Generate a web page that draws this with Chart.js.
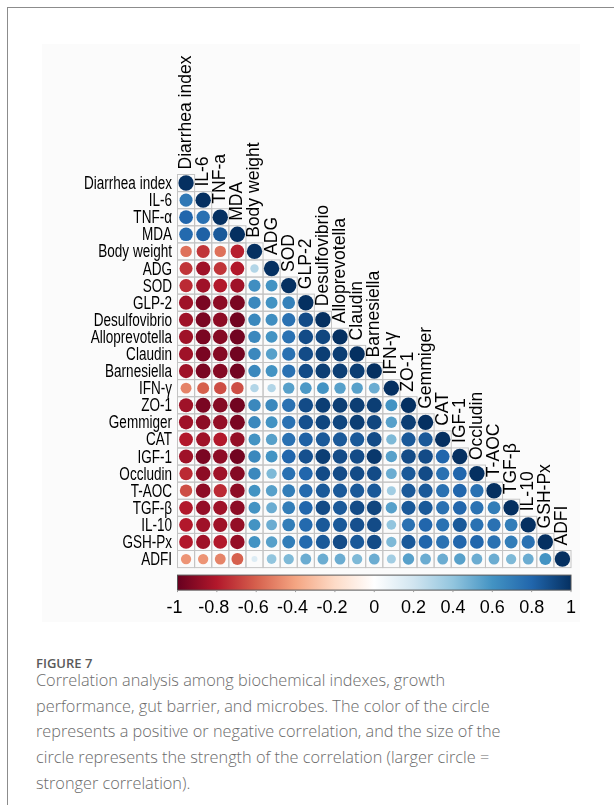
<!DOCTYPE html>
<html>
<head>
<meta charset="utf-8">
<script src="https://cdn.jsdelivr.net/npm/chart.js@4.4.1/dist/chart.umd.min.js"></script>
<style>
  html, body { margin: 0; padding: 0; background: #fff; }
  body { width: 614px; height: 805px; position: relative; overflow: hidden; }
  #frame { position: absolute; left: 7px; top: 7px; width: 700px; height: 900px;
           border-left: 1px solid #8c8c8c; border-top: 1px solid #8c8c8c; }
  #panel { position: absolute; left: 42px; top: 44px; width: 538px; height: 578px; background: #fbfbfb; }
  #wrap { position: absolute; left: 0; top: 0; width: 614px; height: 625px; }
  #figno { position: absolute; left: 36px; top: 655px; font-family: "Open Sans", sans-serif;
           font-weight: 600; font-size: 13px; color: #5a5a5a; line-height: 16px; }
  #caption { position: absolute; left: 36px; top: 668px; font-family: "Open Sans", sans-serif;
             font-weight: 300; font-size: 16.3px; color: #6b6b6b; line-height: 25.7px; white-space: nowrap; }
</style>
</head>
<body>
<div id="frame"></div>
<div id="panel"></div>
<div id="wrap"><canvas id="corr" width="614" height="625"></canvas></div>
<div id="figno">FIGURE 7</div>
<div id="caption">Correlation analysis among biochemical indexes, growth<br>performance, gut barrier, and microbes. The color of the circle<br>represents a positive or negative correlation, and the size of the<br>circle represents the strength of the correlation (larger circle =<br>stronger correlation).</div>

<script>
// variables (rows = columns)
const vars = ["Diarrhea index", "IL-6", "TNF-α", "MDA", "Body weight", "ADG", "SOD", "GLP-2",
  "Desulfovibrio", "Alloprevotella", "Claudin", "Barnesiella", "IFN-γ", "ZO-1", "Gemmiger",
  "CAT", "IGF-1", "Occludin", "T-AOC", "TGF-β", "IL-10", "GSH-Px", "ADFI"];

// column labels as printed on top (TNF-a there, not TNF-α)
const colLabels = ["Diarrhea index", "IL-6", "TNF-a", "MDA", "Body weight", "ADG", "SOD", "GLP-2",
  "Desulfovibrio", "Alloprevotella", "Claudin", "Barnesiella", "IFN-γ", "ZO-1", "Gemmiger",
  "CAT", "IGF-1", "Occludin", "T-AOC", "TGF-β", "IL-10", "GSH-Px", "ADFI"];

// lower triangle, one row per variable (values left of the diagonal)
const r01 = [0.72];
const r02 = [0.80, 0.75];
const r03 = [0.78, 0.82, 0.85];
const r04 = [-0.55, -0.72, -0.55, -0.78];
const r05 = [-0.72, -0.85, -0.72, -0.80, 0.30];
const r06 = [-0.75, -0.85, -0.80, -0.85, 0.62, 0.60];
const r07 = [-0.85, -0.95, -0.90, -0.95, 0.65, 0.60, 0.68];
const r08 = [-0.85, -0.95, -0.90, -0.97, 0.65, 0.62, 0.75, 0.90];
const r09 = [-0.85, -0.95, -0.92, -0.97, 0.65, 0.60, 0.75, 0.90, 0.92];
const r10 = [-0.85, -0.95, -0.92, -0.97, 0.65, 0.55, 0.75, 0.90, 0.95, 0.95];
const r11 = [-0.85, -0.95, -0.92, -0.97, 0.65, 0.60, 0.75, 0.90, 0.95, 0.95, 0.95];
const r12 = [-0.50, -0.60, -0.65, -0.65, 0.30, 0.30, 0.55, 0.58, 0.60, 0.55, 0.55, 0.50];
const r13 = [-0.85, -0.95, -0.92, -0.97, 0.65, 0.65, 0.75, 0.90, 0.95, 0.95, 0.95, 0.95, 0.60];
const r14 = [-0.85, -0.90, -0.88, -0.95, 0.65, 0.60, 0.75, 0.88, 0.92, 0.92, 0.95, 0.92, 0.55, 0.95];
const r15 = [-0.80, -0.85, -0.80, -0.88, 0.60, 0.55, 0.75, 0.82, 0.85, 0.85, 0.85, 0.90, 0.45, 0.85, 0.85];
const r16 = [-0.85, -0.95, -0.90, -0.97, 0.65, 0.60, 0.80, 0.88, 0.95, 0.90, 0.90, 0.97, 0.55, 0.90, 0.90, 0.80];
const r17 = [-0.75, -0.90, -0.85, -0.92, 0.65, 0.45, 0.75, 0.80, 0.90, 0.90, 0.90, 0.90, 0.50, 0.85, 0.90, 0.75, 0.80];
const r18 = [-0.65, -0.90, -0.75, -0.90, 0.60, 0.55, 0.70, 0.78, 0.85, 0.85, 0.85, 0.85, 0.35, 0.85, 0.85, 0.75, 0.80, 0.75];
const r19 = [-0.80, -0.88, -0.85, -0.90, 0.60, 0.50, 0.70, 0.80, 0.90, 0.85, 0.90, 0.92, 0.55, 0.85, 0.85, 0.75, 0.80, 0.75, 0.70];
const r20 = [-0.80, -0.85, -0.85, -0.88, 0.60, 0.50, 0.70, 0.78, 0.85, 0.85, 0.88, 0.90, 0.40, 0.75, 0.80, 0.75, 0.85, 0.75, 0.75, 0.70];
const r21 = [-0.80, -0.85, -0.80, -0.88, 0.60, 0.55, 0.70, 0.78, 0.85, 0.90, 0.85, 0.90, 0.45, 0.85, 0.80, 0.75, 0.80, 0.80, 0.75, 0.70, 0.75];
const r22 = [-0.45, -0.45, -0.50, -0.60, 0.15, 0.40, 0.45, 0.50, 0.50, 0.50, 0.45, 0.50, 0.35, 0.55, 0.50, 0.50, 0.55, 0.50, 0.50, 0.45, 0.50, 0.60];
const lower = [[], r01, r02, r03, r04, r05, r06, r07, r08, r09, r10, r11, r12, r13, r14,
  r15, r16, r17, r18, r19, r20, r21, r22];

// colour legend ticks
const cbTicks = [-1, -0.8, -0.6, -0.4, -0.2, 0, 0.2, 0.4, 0.6, 0.8, 1];
const cbLabels = ["-1", "-0.8", "-0.6", "-0.4", "-0.2", "0", "0.2", "0.4", "0.6", "0.8", "1"];

// RdBu ramp as used by corrplot
const ramp = ["#67001F", "#B2182B", "#D6604D", "#F4A582", "#FDDBC7", "#FFFFFF",
  "#D1E5F0", "#92C5DE", "#4393C3", "#2166AC", "#053061"];

function hexRgb(h) {
  return [parseInt(h.slice(1, 3), 16), parseInt(h.slice(3, 5), 16), parseInt(h.slice(5, 7), 16)];
}

function colorFor(v) {
  const t = Math.max(0, Math.min(1, (v + 1) / 2)) * (ramp.length - 1);
  const k = Math.min(ramp.length - 2, Math.floor(t));
  const f = t - k;
  const a = hexRgb(ramp[k]), b = hexRgb(ramp[k + 1]);
  const c = a.map((x, n) => Math.round(x + (b[n] - x) * f));
  return `rgb(${c[0]},${c[1]},${c[2]})`;
}

// points: diagonal = 1
const points = [];
vars.forEach((name, i) => {
  lower[i].forEach((v, j) => points.push({ x: j, y: i, v: v }));
  points.push({ x: i, y: i, v: 1 });
});

function cellSize(chart) {
  const xs = chart.scales.x;
  return Math.abs(xs.getPixelForValue(1) - xs.getPixelForValue(0));
}

const corrDecor = {
  id: 'corrDecor',
  beforeDatasetsDraw(chart) {
    const ctx = chart.ctx, xs = chart.scales.x, ys = chart.scales.y;
    const cs = cellSize(chart);
    ctx.save();
    ctx.strokeStyle = '#c4c4c4';
    ctx.lineWidth = 1;
    for (let i = 0; i < vars.length; i++) {
      for (let j = 0; j <= i; j++) {
        const cx = xs.getPixelForValue(j), cy = ys.getPixelForValue(i);
        ctx.strokeRect(cx - cs / 2, cy - cs / 2, cs, cs);
      }
    }
    ctx.restore();
  },
  afterDraw(chart) {
    const ctx = chart.ctx, xs = chart.scales.x, ys = chart.scales.y, cb = chart.scales.cb;
    const area = chart.chartArea;
    const cs = cellSize(chart);
    ctx.save();
    ctx.fillStyle = '#000';

    // row labels
    ctx.font = '17.5px "Liberation Sans", Arial, sans-serif';
    const rowSX = 88 / ctx.measureText('Diarrhea index').width;
    ctx.textAlign = 'right';
    ctx.textBaseline = 'alphabetic';
    vars.forEach((name, i) => {
      ctx.save();
      ctx.translate(area.left - 5.5, ys.getPixelForValue(i) + 6);
      ctx.scale(rowSX, 1);
      ctx.fillText(name, 0, 0);
      ctx.restore();
    });

    // column labels on the diagonal
    ctx.font = '19px "Liberation Sans", Arial, sans-serif';
    const colSX = 114 / ctx.measureText('Diarrhea index').width;
    ctx.textAlign = 'left';
    colLabels.forEach((name, j) => {
      ctx.save();
      ctx.translate(xs.getPixelForValue(j) + 5, ys.getPixelForValue(j) - cs / 2 - 5);
      ctx.rotate(-Math.PI / 2);
      ctx.scale(colSX, 1);
      ctx.fillText(name, 0, 0);
      ctx.restore();
    });

    // colour bar
    const x0 = cb.getPixelForValue(-1), x1 = cb.getPixelForValue(1);
    const top = area.bottom + 7.5, h = 15;
    const grad = ctx.createLinearGradient(x0, 0, x1, 0);
    ramp.forEach((c, k) => grad.addColorStop(k / (ramp.length - 1), c));
    ctx.fillStyle = grad;
    ctx.fillRect(x0, top, x1 - x0, h);
    ctx.strokeStyle = '#555';
    ctx.lineWidth = 1;
    ctx.strokeRect(x0, top, x1 - x0, h);

    ctx.strokeStyle = '#999';
    ctx.font = '18px "Liberation Sans", Arial, sans-serif';
    ctx.fillStyle = '#000';
    ctx.textAlign = 'right';
    cbTicks.forEach((v, k) => {
      const x = cb.getPixelForValue(v);
      ctx.beginPath();
      ctx.moveTo(x, top + h);
      ctx.lineTo(x, top + h + 2);
      ctx.stroke();
      const num = cbLabels[k].replace('-', '');
      const w = ctx.measureText(num).width;
      ctx.fillText(cbLabels[k], x + w / 2, top + h + 23);
    });
    ctx.restore();
  }
};

new Chart(document.getElementById('corr'), {
  type: 'scatter',
  data: {
    datasets: [{
      data: points,
      backgroundColor: c => colorFor(c.raw.v),
      borderColor: c => colorFor(c.raw.v),
      borderWidth: 0,
      pointRadius: c => 0.45 * Math.sqrt(Math.abs(c.raw.v)) * cellSize(c.chart),
      pointHoverRadius: c => 0.45 * Math.sqrt(Math.abs(c.raw.v)) * cellSize(c.chart)
    }]
  },
  options: {
    responsive: false,
    animation: false,
    events: [],
    layout: { padding: { left: 177.5, right: 43, top: 174.5, bottom: 57.4 } },
    plugins: { legend: { display: false }, tooltip: { enabled: false } },
    scales: {
      x: { type: 'linear', min: -0.5, max: 22.5, display: false },
      y: { type: 'linear', min: -0.5, max: 22.5, reverse: true, display: false },
      cb: { type: 'linear', axis: 'x', position: 'bottom', min: -1, max: 1, display: false }
    }
  },
  plugins: [corrDecor]
});
</script>
</body>
</html>
